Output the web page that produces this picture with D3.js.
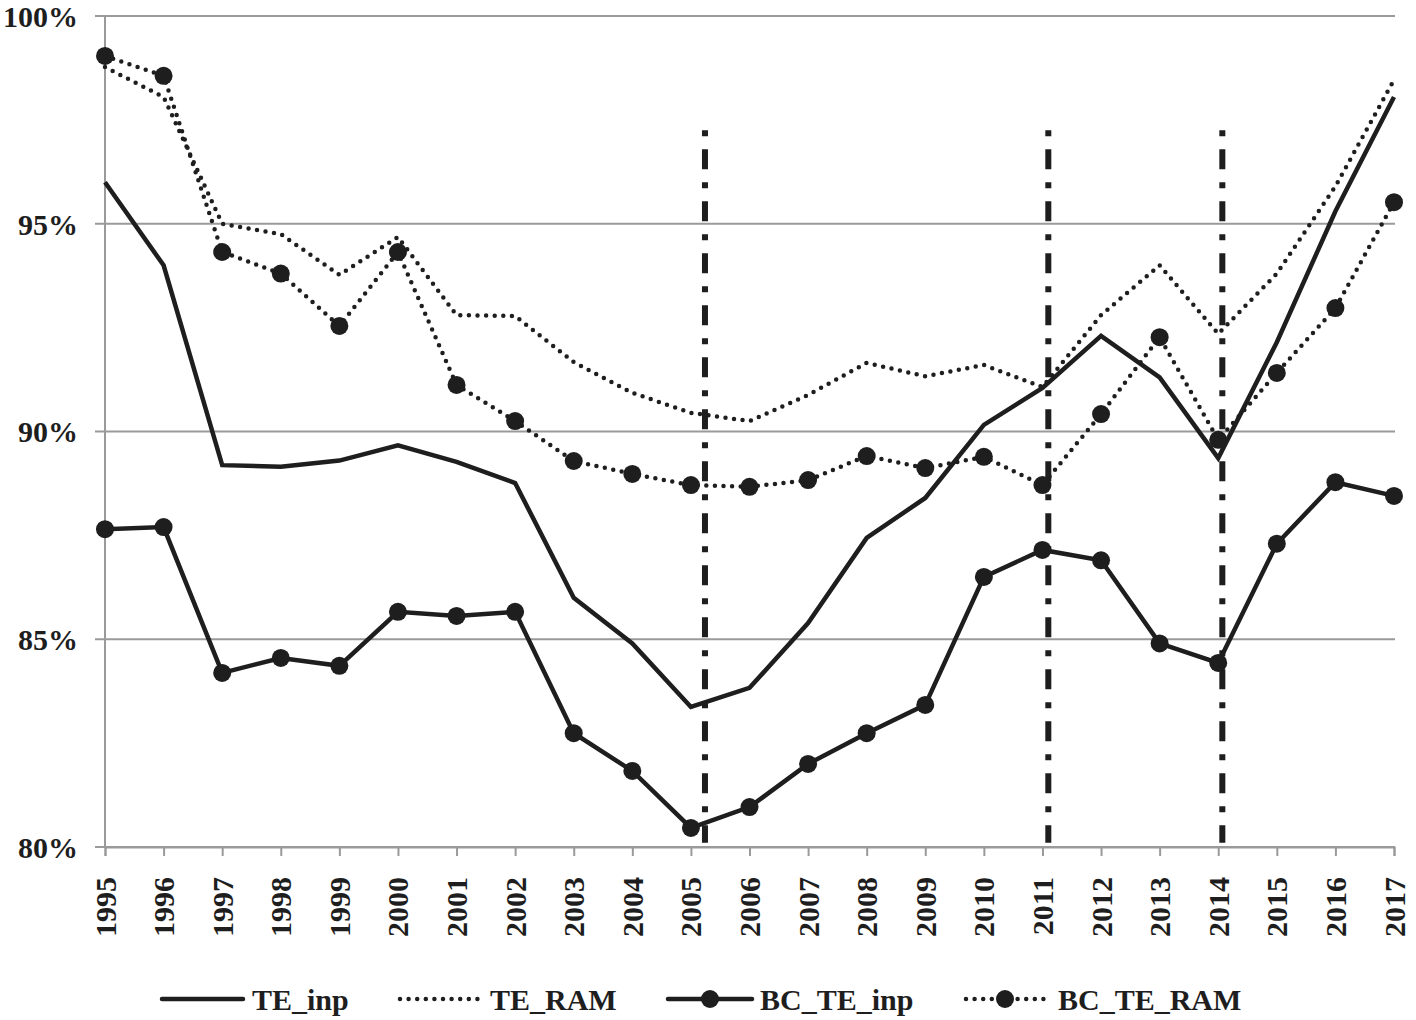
<!DOCTYPE html>
<html><head><meta charset="utf-8">
<script src="https://cdn.jsdelivr.net/npm/d3@7/dist/d3.min.js"></script>
<style>body{margin:0;background:#fff}svg{display:block}</style>
</head><body>
<svg id="c" width="1416" height="1020"></svg>
<script>
const years = [1995,1996,1997,1998,1999,2000,2001,2002,2003,2004,2005,2006,2007,2008,2009,2010,2011,2012,2013,2014,2015,2016,2017];
const teInp = [96.0,94.0,89.19,89.15,89.3,89.67,89.27,88.76,86.0,84.9,83.37,83.83,85.39,87.44,88.4,90.16,91.05,92.3,91.3,89.36,92.15,95.3,98.05];
const teRam = [98.77,98.05,95.0,94.75,93.77,94.68,92.8,92.78,91.67,90.93,90.45,90.25,90.88,91.65,91.33,91.6,91.07,92.8,94.0,92.35,93.8,95.9,98.46];
const bcTeInp = [87.65,87.7,84.19,84.55,84.36,85.66,85.56,85.66,82.74,81.83,80.46,80.96,82.0,82.74,83.42,86.5,87.15,86.9,84.9,84.43,87.3,88.78,88.45];
const bcTeRam = [99.04,98.56,94.32,93.8,92.54,94.32,91.12,90.25,89.29,88.98,88.71,88.67,88.83,89.41,89.12,89.39,88.71,90.42,92.27,89.8,91.41,92.97,95.52];
const yTicks = [80,85,90,95,100];
const eventYears = [2005.24, 2011.1, 2014.07];
const eventRange = [97.25, 80.1];
const seriesNames = ["TE_inp","TE_RAM","BC_TE_inp","BC_TE_RAM"];

const ink = "#1e1e1e", grid = "#9a9a9a";
const font = "'Liberation Serif','Times New Roman',serif";
const svg = d3.select("#c");
const x = d3.scaleLinear().domain([1995,2017]).range([105,1394]);
const y = d3.scaleLinear().domain([80,100]).range([847,16]);

// gridlines + y labels
const gy = svg.append("g");
gy.selectAll("line").data(yTicks).join("line")
  .attr("x1",95).attr("x2",1395).attr("y1",d=>y(d)).attr("y2",d=>y(d))
  .attr("stroke",grid).attr("stroke-width",2);
gy.selectAll("text").data(yTicks).join("text")
  .attr("x",78).attr("y",d=>y(d)).attr("dy","0.36em")
  .attr("text-anchor","end").attr("font-family",font).attr("font-weight","bold")
  .attr("font-size",30).attr("fill",ink).text(d=>d+"%");
// y axis line
svg.append("line").attr("x1",x(1995)).attr("x2",x(1995)).attr("y1",y(100)).attr("y2",y(80))
  .attr("stroke",grid).attr("stroke-width",2);
// x axis
const xAxis = d3.axisBottom(x).tickValues(years).tickSize(9).tickFormat("");
const gx = svg.append("g").attr("transform",`translate(0,${y(80)})`).call(xAxis);
gx.select(".domain").attr("stroke",grid).attr("stroke-width",2);
gx.selectAll(".tick line").attr("stroke",grid).attr("stroke-width",2);
svg.append("g").selectAll("text").data(years).join("text")
  .attr("transform",d=>`translate(${x(d)},877) rotate(-90)`)
  .attr("text-anchor","end").attr("dy","0.35em")
  .attr("font-family",font).attr("font-weight","bold").attr("font-size",30)
  .attr("fill",ink).text(d=>d);

// event lines
svg.append("g").selectAll("line").data(eventYears).join("line")
  .attr("x1",d=>x(d)).attr("x2",d=>x(d)).attr("y1",y(eventRange[0])).attr("y2",y(eventRange[1]))
  .attr("stroke",ink).attr("stroke-width",6).attr("stroke-dasharray","6 13 20 13");

const line = d3.line().x((d,i)=>x(years[i])).y(d=>y(d));
const solid = {"stroke-width":4.5,"stroke-dasharray":null,"stroke-linecap":"butt"};
const dotted = {"stroke-width":4.5,"stroke-dasharray":"0 8.6","stroke-linecap":"round"};
function drawSeries(vals, style, markers){
  const p = svg.append("path").datum(vals).attr("d",line).attr("fill","none")
    .attr("stroke",ink).attr("stroke-linejoin","miter");
  for (const k in style) if (style[k]!==null) p.attr(k,style[k]);
  if (markers) svg.append("g").selectAll("circle").data(vals).join("circle")
    .attr("cx",(d,i)=>x(years[i])).attr("cy",d=>y(d)).attr("r",9).attr("fill",ink);
}
drawSeries(teRam, dotted, false);
drawSeries(bcTeRam, dotted, true);
drawSeries(teInp, solid, false);
drawSeries(bcTeInp, solid, true);

// legend
const legend = [
  {name:seriesNames[0], x1:162, x2:243, style:solid, marker:false, tx:252},
  {name:seriesNames[1], x1:400, x2:480, style:dotted, marker:false, tx:490},
  {name:seriesNames[2], x1:668, x2:752, style:solid, marker:true, tx:760},
  {name:seriesNames[3], x1:966, x2:1044, style:dotted, marker:true, tx:1058}
];
const ly = 999;
legend.forEach(l=>{
  const ln = svg.append("line").attr("x1",l.x1).attr("x2",l.x2).attr("y1",ly).attr("y2",ly).attr("stroke",ink);
  for (const k in l.style) if (l.style[k]!==null) ln.attr(k,l.style[k]);
  if (l.style===solid) ln.attr("stroke-linecap","round");
  if (l.marker) svg.append("circle").attr("cx",(l.x1+l.x2)/2).attr("cy",ly).attr("r",9).attr("fill",ink);
  svg.append("text").attr("x",l.tx).attr("y",1010).attr("font-family",font).attr("font-weight","bold")
    .attr("font-size",30).attr("fill",ink).text(l.name);
});
</script>
</body></html>
